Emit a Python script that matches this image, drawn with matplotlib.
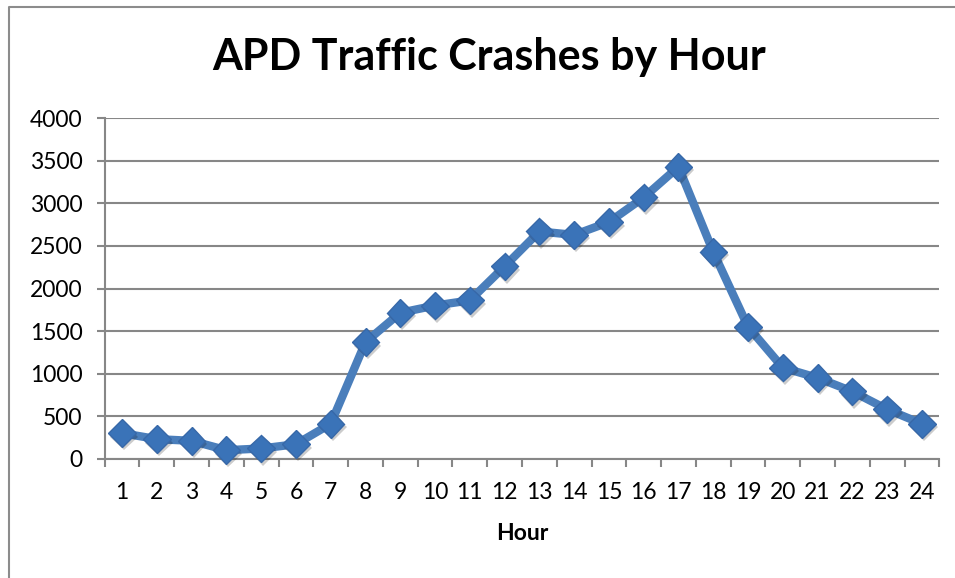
import matplotlib.pyplot as plt
from matplotlib.lines import Line2D
import matplotlib.patheffects as pe

hours = list(range(1, 25))
crashes = [300, 230, 210, 100, 120, 170, 410, 1370, 1715, 1800, 1860, 2260,
           2670, 2630, 2780, 3070, 3430, 2430, 1550, 1070, 950, 790, 580, 410]

plt.rcParams['font.family'] = ['Lato', 'DejaVu Sans']

W, H = 955, 578
fig = plt.figure(figsize=(W / 100, H / 100), dpi=100)
ax = fig.add_axes([104.7 / W, 1 - 458.7 / H, (939.3 - 104.7) / W, (458.7 - 118.3) / H])

grid_c = '#878787'
ax.set_ylim(0, 4000)
ax.set_xlim(0.5, 24.5)
ax.set_yticks(range(0, 4001, 500))
ax.yaxis.grid(True, color=grid_c, linewidth=1.5)
ax.set_axisbelow(True)

# category boundaries get the tick marks, centres get the labels
ax.set_xticks([h + 0.5 for h in range(0, 25)])
ax.set_xticklabels([])
ax.set_xticks(hours, minor=True)
ax.set_xticklabels([str(h) for h in hours], minor=True)
ax.tick_params(axis='x', which='major', length=6, width=1.5, color=grid_c, direction='out')
ax.tick_params(axis='x', which='minor', length=0, pad=17, labelsize=16.5)
ax.tick_params(axis='y', length=6, width=1.5, color=grid_c, direction='out', pad=10, labelsize=16.5)

for s in ['top', 'right']:
    ax.spines[s].set_visible(False)
for s in ['left', 'bottom']:
    ax.spines[s].set_color(grid_c)
    ax.spines[s].set_linewidth(1.5)

ax.plot(hours, crashes, color='#4A7EBB', linewidth=6, solid_joinstyle='round',
        clip_on=False, zorder=3)
shadow = [pe.SimplePatchShadow(offset=(1.5, -2.5), shadow_rgbFace='#000000', alpha=0.2), pe.Normal()]
ax.plot(hours, crashes, linestyle='none', marker='D', markersize=14,
        markerfacecolor='#3A73B8', markeredgecolor='#3768A8', markeredgewidth=1,
        path_effects=shadow, clip_on=False, zorder=4)

ax.set_xlabel('Hour', fontsize=16.5, fontweight='bold', labelpad=14)

fig.text(489 / W, 1 - 57 / H, 'APD Traffic Crashes by Hour', ha='center', va='center',
         fontsize=31, fontweight='bold')

# outer chart border (only left and top visible in the crop)
fig.add_artist(Line2D([8.5 / W, 8.5 / W, 1], [0, 1 - 6.5 / H, 1 - 6.5 / H],
                      color='#8c8c8c', linewidth=1.5, transform=fig.transFigure))

fig.savefig('out.png', dpi=100)
